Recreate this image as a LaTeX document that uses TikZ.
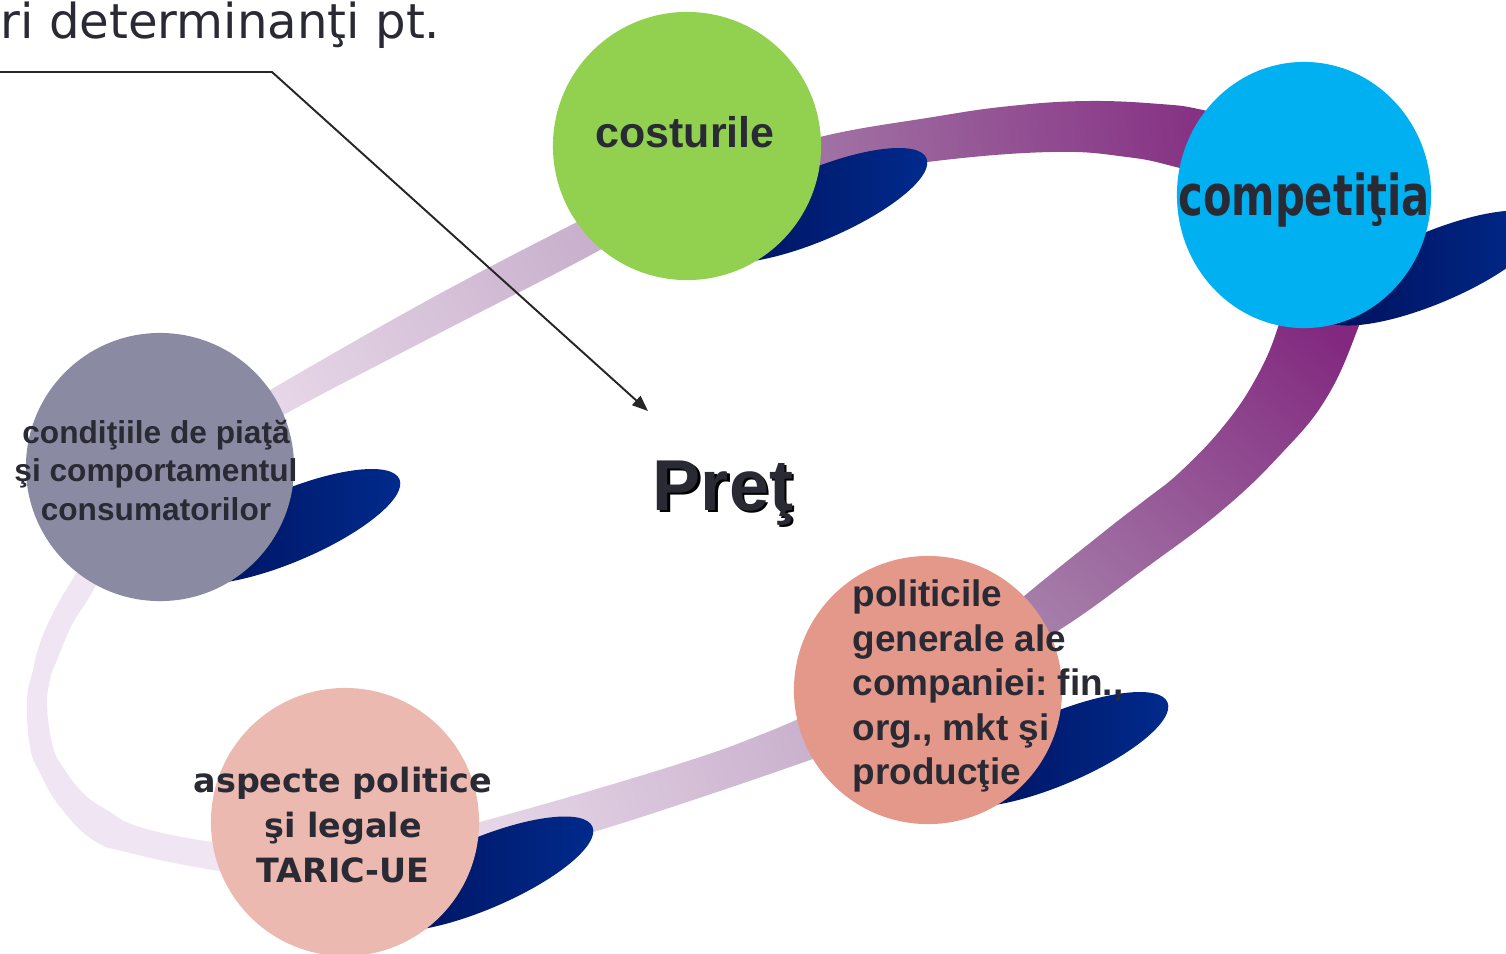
\documentclass[tikz,border=0pt]{standalone}
\usepackage{fontspec}
\setmainfont{Liberation Sans}
\newfontfamily\verdana{DejaVu Sans}
\usepackage{xcolor}
\usepackage{graphicx}
\usetikzlibrary{shapes.geometric,arrows.meta}
\frenchspacing

\definecolor{inkdark}{HTML}{2A2A35}
\definecolor{costgreen}{HTML}{92D050}
\definecolor{compblue}{HTML}{00B0F0}
\definecolor{condgray}{HTML}{8A8AA2}
\definecolor{aspink}{HTML}{ECB9B0}
\definecolor{polsalmon}{HTML}{E4988A}
\definecolor{navyd}{HTML}{000F58}
\definecolor{navyl}{HTML}{002B8E}
\definecolor{ringpale}{HTML}{F0E6F3}
\definecolor{ringlight}{HTML}{E8D9E9}
\definecolor{ringmid}{HTML}{C7AECB}
\definecolor{ringdeep}{HTML}{A57DA9}
\definecolor{ringdark}{HTML}{82287F}

\begin{document}
\begin{tikzpicture}[x=0.01cm,y=-0.01cm,
  ball/.style={circle,minimum size=2.68cm,inner sep=0pt},
  blob/.style={ellipse,minimum width=2.42cm,minimum height=0.71cm,inner sep=0pt,
    rotate=23,left color=navyd,right color=navyl},
  lbl/.style={text=inkdark,inner sep=0pt}]
\useasboundingbox (0,0) rectangle (1506,953);
\clip (0,0) rectangle (1506,953);
%
% the ring, piece by piece
\shade[left color=ringlight,right color=ringmid,shading angle=118]
  plot[smooth,tension=0.7] coordinates {(200,432) (270,390) (430,299) (577,222) (650,186)}
  -- plot[smooth,tension=0.7] coordinates {(660,212) (600,250) (430,338) (285,414) (215,456)}
  -- cycle;
\shade[left color=ringdeep,right color=ringdark,shading angle=95]
  plot[smooth,tension=0.7] coordinates {(740,165) (820,137) (933,117) (1010,106) (1087,101)
    (1160,104) (1203,110) (1270,128)}
  -- plot[smooth,tension=0.7] coordinates {(1260,190) (1180,168) (1127,157) (1050,152)
    (927,162) (820,180) (750,205)}
  -- cycle;
\shade[left color=ringdeep,right color=ringdark,shading angle=140]
  plot[smooth,tension=0.7] coordinates {(1380,262) (1360,323) (1327,397) (1280,455)
    (1220,512) (1143,570) (1070,623) (1000,665)}
  -- plot[smooth,tension=0.7] coordinates {(975,640) (1023,597) (1110,527) (1145,500)
    (1180,472) (1222,428) (1255,380) (1278,327) (1290,270)}
  -- cycle;
\shade[left color=ringlight,right color=ringmid,shading angle=108]
  plot[smooth,tension=0.7] coordinates {(420,838) (480,822) (593,790) (700,757)
    (760,735) (810,714) (860,692)}
  -- plot[smooth,tension=0.7] coordinates {(880,734) (810,760) (693,800) (590,833)
    (480,864) (420,880)}
  -- cycle;
\fill[ringpale]
  plot[smooth,tension=0.7] coordinates {(300,880) (213,870) (130,853) (93,840) (60,807)
    (40,773) (30,747) (27,700) (33,670) (40,643) (53,613) (72,580) (110,520)}
  -- plot[smooth,tension=0.7] coordinates {(130,505) (97,583) (73,623) (57,660) (50,680)
    (47,707) (53,747) (63,767) (83,793) (107,810) (140,827) (213,842) (300,850)}
  -- cycle;
%
% shadows
\node[blob] (cond-sh) at (288,526.5) {};
\node[blob] (cost-sh) at (815,205.5) {};
\node[blob] (comp-sh) at (1432,268) {};
\node[blob] (pol-sh) at (1056,749.5) {};
\node[blob] (asp-sh) at (481,874) {};
%
% circles
\node[ball,fill=condgray] (cond) at (160,467) {};
\node[ball,fill=costgreen] (cost) at (687,146) {};
\node[ellipse,minimum width=2.54cm,minimum height=2.66cm,inner sep=0pt,
  fill=compblue] (comp) at (1304,195) {};
\node[ball,fill=polsalmon] (pol) at (928,690) {};
\node[ball,fill=aspink] (asp) at (345,822) {};
%
\node[lbl,anchor=base,font=\bfseries\fontsize{12.2}{15}\selectfont]
  (cost-t) at (685,147) {costurile};
\node[lbl,anchor=base,font=\verdana\bfseries\fontsize{16}{19}\selectfont]
  (comp-t) at (1304,215) {\scalebox{0.74}[1]{competiţia}};
\node[lbl,align=center,font=\bfseries\fontsize{9}{10.95}\selectfont]
  (cond-t) at (156,470) {condiţiile de piaţă\\şi comportamentul\\consumatorilor};
\node[lbl,align=left,anchor=west,font=\bfseries\fontsize{10.5}{12.66}\selectfont]
  (pol-t) at (852,686) {politicile\\generale ale\\companiei: fin.,\\org., mkt şi\\producţie};
\node[lbl,align=center,font=\verdana\bfseries\fontsize{9.5}{12.9}\selectfont]
  (asp-t) at (343,825) {aspecte politice\\şi legale\\TARIC-UE};
%
\node[anchor=base,text=black,inner sep=0pt,font=\bfseries\fontsize{20.5}{24}\selectfont]
  (pret-sh) at (725.5,512.5) {Preţ};
\node[anchor=base,text=inkdark,inner sep=0pt,font=\bfseries\fontsize{20.5}{24}\selectfont]
  (pret) at (723,510) {Preţ};
%
\node[anchor=base west,inner sep=0pt,text=inkdark,font=\verdana\fontsize{13.7}{16}\selectfont]
  (title) at (0,38) {ri determinanţi pt.};
\coordinate (lead) at (0,72);
\coordinate (bend) at (272,72);
\coordinate (tip) at (648,411);
\draw[line width=0.55pt,black!85,-{Triangle[length=4.5pt,width=3.5pt]}]
  (lead) -- (bend) -- (tip);
\end{tikzpicture}
\end{document}
